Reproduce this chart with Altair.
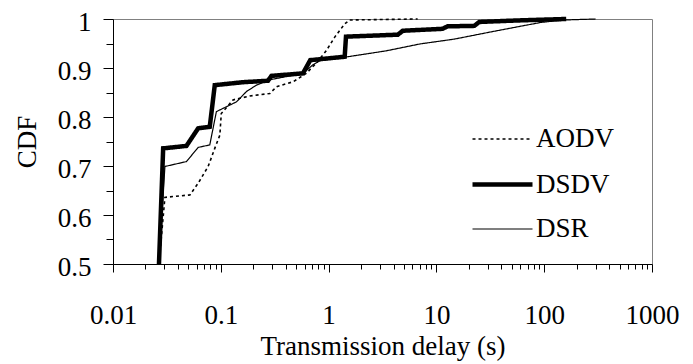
import altair as alt
import pandas as pd

series = ["AODV", "DSDV", "DSR"]

aodv_x = [0.0267, 0.0303, 0.0517, 0.0617, 0.0763, 0.0879, 0.098, 0.101, 0.13, 0.186,
          0.285, 0.33, 0.47, 0.62, 0.77, 0.95, 1.14, 1.41, 1.57, 6.7]
aodv_y = [0.5, 0.636, 0.641, 0.665, 0.699, 0.736, 0.763, 0.807, 0.835, 0.843,
          0.848, 0.862, 0.872, 0.889, 0.910, 0.935, 0.963, 0.990, 0.998, 1.0]

dsdv_x = [0.0267, 0.0292, 0.048, 0.0617, 0.079, 0.0879, 0.16, 0.274, 0.295, 0.578,
          0.676, 1.41, 1.45, 4.39, 4.88, 11.4, 12.7, 22.5, 25, 56, 110, 160]
dsdv_y = [0.5, 0.736, 0.741, 0.777, 0.780, 0.865, 0.871, 0.874, 0.884, 0.889,
          0.916, 0.923, 0.964, 0.968, 0.976, 0.980, 0.985, 0.986, 0.994, 0.997, 0.999, 1.0]

dsr_x = [0.0267, 0.0303, 0.048, 0.0617, 0.079, 0.091, 0.113, 0.14, 0.173, 0.214,
         0.285, 0.58, 0.71, 0.83, 1.41, 3.42, 7.0, 14.7, 34.4, 93, 153, 300]
dsr_y = [0.5, 0.699, 0.709, 0.738, 0.743, 0.811, 0.821, 0.831, 0.852, 0.865,
         0.876, 0.889, 0.906, 0.915, 0.922, 0.935, 0.949, 0.959, 0.975, 0.993, 0.998, 1.0]

major_x = [0.01, 0.1, 1, 10, 100, 1000]
minor_x = [round(m * 10 ** e, 6) for e in range(-2, 3) for m in range(2, 10)]
major_y = [0.5, 0.6, 0.7, 0.8, 0.9, 1.0]
minor_y = [0.55, 0.65, 0.75, 0.85, 0.95]

rows = []
for name, xs, ys in [("AODV", aodv_x, aodv_y), ("DSDV", dsdv_x, dsdv_y), ("DSR", dsr_x, dsr_y)]:
    for i, (a, b) in enumerate(zip(xs, ys)):
        rows.append({"series": name, "delay": a, "cdf": b, "order": i})
df = pd.DataFrame(rows)

font = "Liberation Serif"
xscale = alt.Scale(type="log", domain=[0.01, 1000])
yscale = alt.Scale(domain=[0.5, 1.0], zero=False)

legend = alt.Legend(
    title=None, orient="none", legendX=357, legendY=104,
    symbolType="M-1,0H3", symbolSize=900, symbolStrokeColor="black",
    labelFont=font, labelFontSize=27, labelColor="black",
    rowPadding=15, labelOffset=31, padding=0,
)

lines = alt.Chart(df).mark_line(color="black").encode(
    x=alt.X("delay:Q", scale=xscale, axis=alt.Axis(
        values=major_x, format="~g", tickSize=8, labelPadding=30, labelBaseline="top",
        labelFlush=False, labelOverlap=False, orient="bottom",
        title="Transmission delay (s)", titleY=90, titleBaseline="alphabetic")),
    y=alt.Y("cdf:Q", scale=yscale, axis=alt.Axis(
        values=major_y, labelExpr="datum.value == 1 ? '1' : format(datum.value, '.1f')",
        tickSize=10, labelPadding=12, labelBaseline="middle", labelOffset=3, orient="left",
        title="CDF", titleAngle=270, titleX=-78, titleY=122.5,
        titleBaseline="alphabetic", titleAlign="center")),
    strokeDash=alt.StrokeDash("series:N", scale=alt.Scale(
        domain=series, range=[[3, 3], [1, 0], [1, 0]]), legend=legend),
    strokeWidth=alt.StrokeWidth("series:N", scale=alt.Scale(
        type="ordinal", domain=series, range=[1.6, 4.5, 1.2]), legend=legend),
    order="order:Q",
)

minor = alt.Chart(df).mark_point(opacity=0).encode(
    x=alt.X("delay:Q", scale=xscale, axis=alt.Axis(
        values=minor_x, tickSize=5, labels=False, domain=False, title=None, orient="bottom")),
    y=alt.Y("cdf:Q", scale=yscale, axis=alt.Axis(
        values=minor_y, tickSize=7, labels=False, domain=False, title=None, orient="left")),
)

chart = alt.layer(lines, minor).resolve_axis(x="independent", y="independent").properties(
    width=539, height=245,
    autosize=alt.AutoSizeParams(type="none"),
    padding={"left": 105, "top": 11, "right": 33, "bottom": 105},
).configure_axis(
    labelFont=font, titleFont=font, labelFontSize=27, titleFontSize=27,
    labelColor="black", titleColor="black", tickColor="black", domainColor="black",
    grid=False, titleFontWeight="normal", tickWidth=1, domainWidth=1,
).configure_view(stroke="#808080", strokeWidth=1)

chart.save("out.html", embed_options={"renderer": "svg", "actions": False})
